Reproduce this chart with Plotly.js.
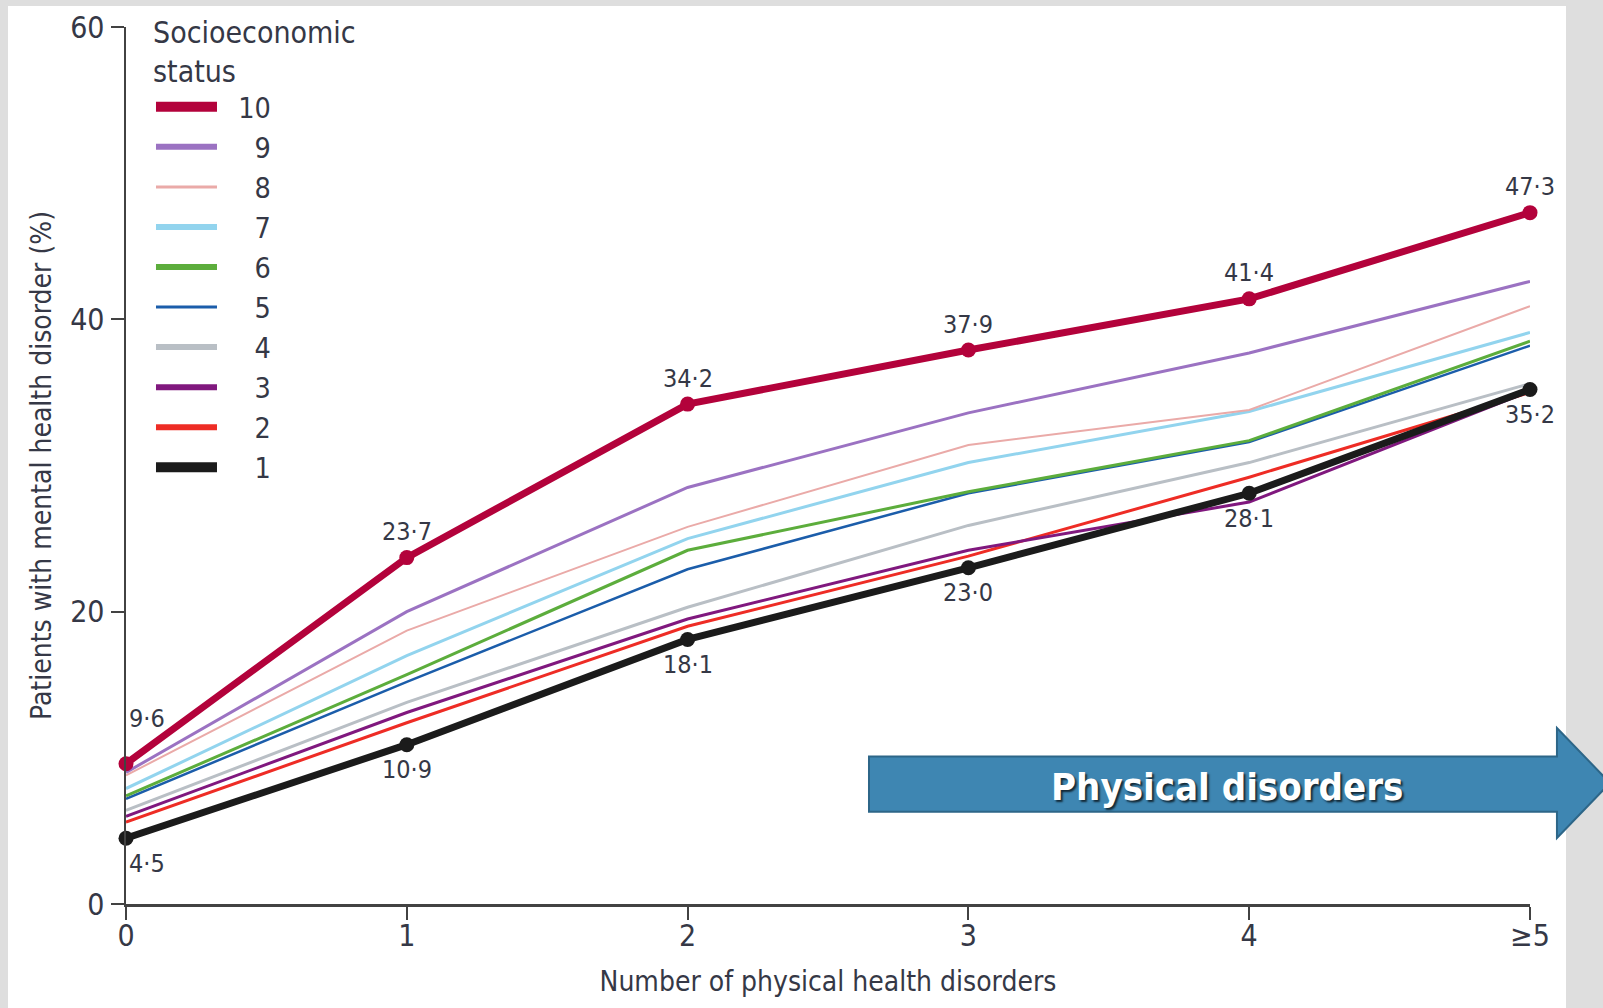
<!DOCTYPE html>
<html><head><meta charset="utf-8">
<script src="https://cdn.plot.ly/plotly-3.0.1.min.js"></script>
<style>html,body{margin:0;padding:0;background:#dedede;} #chart{width:1603px;height:1008px;}</style>
</head><body><div id="chart"></div>
<script>
// ---- data ----
const xVals = [0, 1, 2, 3, 4, 5];
const xTickLabels = ['0', '1', '2', '3', '4', '≥5'];
const yTickVals = [0, 20, 40, 60];
const yTickLabels = ['0', '20', '40', '60'];
const sesLevels = ['10', '9', '8', '7', '6', '5', '4', '3', '2', '1'];
const ses10 = [9.6, 23.7, 34.2, 37.9, 41.4, 47.3];
const ses9  = [9.0, 20.0, 28.5, 33.6, 37.7, 42.6];
const ses8  = [8.8, 18.7, 25.8, 31.4, 33.8, 40.9];
const ses7  = [7.9, 17.0, 25.0, 30.2, 33.7, 39.1];
const ses6  = [7.4, 15.7, 24.2, 28.2, 31.7, 38.5];
const ses5  = [7.2, 15.2, 22.9, 28.1, 31.6, 38.2];
const ses4  = [6.4, 13.8, 20.3, 25.9, 30.2, 35.6];
const ses3  = [6.0, 13.1, 19.5, 24.2, 27.5, 35.1];
const ses2  = [5.6, 12.4, 19.0, 23.8, 29.2, 35.0];
const ses1  = [4.5, 10.9, 18.1, 23.0, 28.1, 35.2];

// ---- styles ----
const FONT = '"Liberation Sans Narrow", "DejaVu Sans Condensed", "Arial Narrow", sans-serif';
const TXT = '#353846';
const seriesValues = {'10': ses10, '9': ses9, '8': ses8, '7': ses7, '6': ses6, '5': ses5, '4': ses4, '3': ses3, '2': ses2, '1': ses1};
const seriesColors = {'10': '#b3023b', '9': '#9b72c2', '8': '#eaaaa8', '7': '#92d4ee', '6': '#5cad3c', '5': '#1b5daa', '4': '#b9bfc5', '3': '#80187e', '2': '#ee2c25', '1': '#1b1b1b'};
const lineW = {'10': 7, '9': 3, '8': 2, '7': 3, '6': 3, '5': 2.5, '4': 3, '3': 3, '2': 3, '1': 7};
const legendW = {'10': 10, '9': 6, '8': 3, '7': 6, '6': 6, '5': 3, '4': 6, '3': 6, '2': 6, '1': 10};
const emphasised = ['10', '1'];

const traces = [];
// legend entries (no data; order 10 -> 1)
sesLevels.forEach(function (s) {
  traces.push({
    type: 'scatter', mode: 'lines', x: [null], y: [null],
    name: (s.length === 1 ? '\u2007\u2007' : '\u2007') + s,
    line: {color: seriesColors[s], width: legendW[s]},
    showlegend: true, hoverinfo: 'skip'
  });
});
// thin lines first, emphasised on top
const drawOrder = ['2', '3', '4', '5', '6', '7', '8', '9', '10', '1'];
drawOrder.forEach(function (s) {
  const emph = emphasised.indexOf(s) >= 0;
  traces.push({
    type: 'scatter', mode: emph ? 'lines+markers' : 'lines',
    x: xVals, y: seriesValues[s], name: s, showlegend: false,
    line: {color: seriesColors[s], width: lineW[s]},
    marker: {color: seriesColors[s], size: 15},
    cliponaxis: false
  });
});

function fmt(v) { return v.toFixed(1).replace('.', '·'); }
const annotations = [];
xVals.forEach(function (x, i) {
  annotations.push({x: x, y: ses10[i], xref: 'x', yref: 'y', text: fmt(ses10[i]), showarrow: false,
    xanchor: 'center', yanchor: 'middle',
    xshift: i === 0 ? 21 : 0, yshift: i === 0 ? 45 : 26, font: {family: FONT, size: 25, color: TXT}});
  annotations.push({x: x, y: ses1[i], xref: 'x', yref: 'y', text: fmt(ses1[i]), showarrow: false,
    xanchor: 'center', yanchor: 'middle',
    xshift: i === 0 ? 21 : 0, yshift: -25, font: {family: FONT, size: 25, color: TXT}});
});
annotations.push({x: 0.7842, y: 0.1334, xref: 'paper', yref: 'paper', xanchor: 'center', yanchor: 'middle',
  text: 'Physical disorders', showarrow: false,
  font: {family: '"DejaVu Sans Condensed", sans-serif', weight: 'bold', size: 38, color: '#ffffff',
         shadow: '2px 2px 2px rgba(0,0,0,0.7)'}});

const shapes = [
  {type: 'rect', xref: 'paper', yref: 'paper', x0: -0.08405, x1: 1.02564, y0: -0.2, y1: 1.02394,
   fillcolor: '#ffffff', line: {width: 0}, layer: 'below'},
  {type: 'path', xref: 'paper', yref: 'paper', layer: 'above',
   path: 'M 0.5292 0.1682 L 1.0192 0.1682 L 1.0192 0.2007 L 1.0570 0.1380 L 1.0192 0.0753 L 1.0192 0.1052 L 0.5292 0.1052 Z',
   fillcolor: '#3e86b2', line: {color: '#2d6688', width: 2}}
];

const layout = {
  width: 1603, height: 1008,
  margin: {l: 126, r: 73, t: 27, b: 104, pad: 0, autoexpand: false},
  paper_bgcolor: '#dedede', plot_bgcolor: '#ffffff',
  font: {family: FONT, color: TXT},
  showlegend: true,
  legend: {
    x: 0.0178, y: 1.0265, xanchor: 'left', yanchor: 'top',
    bgcolor: 'rgba(0,0,0,0)', borderwidth: 0, itemwidth: 61,
    font: {family: FONT, size: 28.5, color: TXT},
    title: {text: 'Socioeconomic<br>status', font: {family: FONT, size: 30, color: TXT}},
    traceorder: 'normal', tracegroupgap: 0
  },
  xaxis: {
    range: [0, 5], tickvals: xVals, ticktext: xTickLabels,
    showgrid: false, zeroline: false, showline: true, linecolor: '#424242', linewidth: 2.5,
    ticks: 'outside', ticklen: 13, tickwidth: 2, tickcolor: '#424242',
    ticklabelstandoff: -10,
    tickfont: {family: FONT, size: 30, color: TXT},
    title: {text: 'Number of physical health disorders', font: {family: FONT, size: 28, color: TXT}, standoff: 20},
    fixedrange: true
  },
  yaxis: {
    range: [0, 60], tickvals: yTickVals, ticktext: yTickLabels,
    showgrid: false, zeroline: false, showline: true, linecolor: '#424242', linewidth: 2.5,
    ticks: 'outside', ticklen: 13, tickwidth: 2, tickcolor: '#424242',
    tickfont: {family: FONT, size: 30, color: TXT},
    title: {text: 'Patients with mental health disorder (%)', font: {family: FONT, size: 28, color: TXT}, standoff: 11},
    fixedrange: true
  },
  annotations: annotations,
  shapes: shapes
};

Plotly.newPlot('chart', traces, layout, {displayModeBar: false, staticPlot: true});
</script>
</body></html>
